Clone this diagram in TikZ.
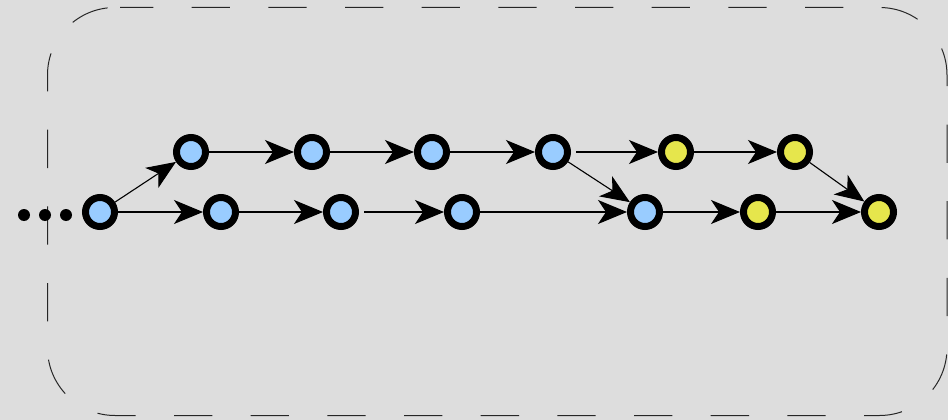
\documentclass[tikz,border=0pt]{standalone}
\usetikzlibrary{arrows.meta}
\definecolor{bg}{HTML}{DDDDDD}
\definecolor{nblue}{HTML}{99CCFF}
\definecolor{nyellow}{HTML}{E6E64C}
\begin{document}
\begin{tikzpicture}[x=1pt,y=-1pt,
  commit/.style={circle,draw=black,line width=7pt,minimum size=29pt,inner sep=0pt},
  bc/.style={commit,fill=nblue},
  yc/.style={commit,fill=nyellow},
  edge/.style={line width=1.1pt,draw=black,-{Stealth[length=29pt,width=24pt,inset=8pt]}},
  dot/.style={circle,fill=black,inner sep=0pt,minimum size=12pt}]
\fill[bg] (0,0) rectangle (948,420);
\useasboundingbox (0,0) rectangle (948,420);
\draw[line width=1pt,black!85,rounded corners=67.5pt,dash pattern=on 38.3pt off 38.37pt,dash phase=5pt]
  (120,7.5) -- (947,7.5) -- (947,415.5) -- (47.5,415.5) -- (47.5,7.5) -- (120,7.5);
\node[dot] (d1) at (24,215) {};
\node[dot] (d2) at (45,215) {};
\node[dot] (d3) at (66,215) {};
\node[bc] (b1) at (100,212) {};
\node[bc] (b2) at (221,212) {};
\node[bc] (b3) at (341,212) {};
\node[bc] (b4) at (462,212) {};
\node[bc] (b5) at (645,212) {};
\node[yc] (b6) at (758,212) {};
\node[yc] (b7) at (879,212) {};
\node[bc] (t1) at (191,152) {};
\node[bc] (t2) at (312,152) {};
\node[bc] (t3) at (432,152) {};
\node[bc] (t4) at (553,152) {};
\node[yc] (t5) at (676,152) {};
\node[yc] (t6) at (795,152) {};
\draw[edge] (b1) -- (t1);
\draw[edge] (t1) -- (t2);
\draw[edge] (t2) -- (t3);
\draw[edge] (t3) -- (t4);
\draw[edge,shorten <=5pt] (t4) -- (t5);
\draw[edge] (t5) -- (t6);
\draw[edge] (t6) -- (b7);
\draw[edge] (b1) -- (b2);
\draw[edge] (b2) -- (b3);
\draw[edge,shorten <=5pt] (b3) -- (b4);
\draw[edge] (b4) -- (b5);
\draw[edge] (t4) -- (b5);
\draw[edge] (b5) -- (b6);
\draw[edge] (b6) -- (b7);
\end{tikzpicture}
\end{document}
